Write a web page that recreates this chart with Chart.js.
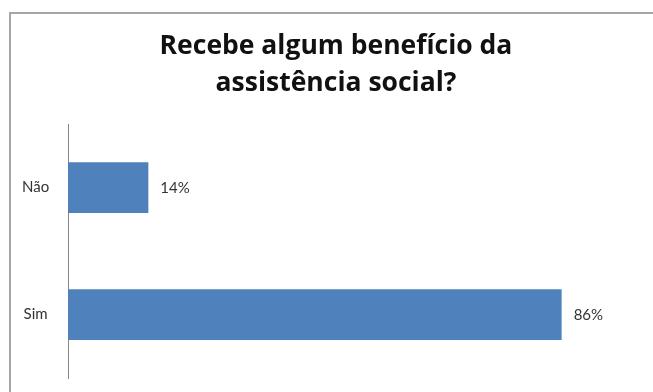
<!DOCTYPE html>
<html>
<head>
<meta charset="utf-8">
<title>Assistência social</title>
<script src="https://cdn.jsdelivr.net/npm/chart.js@4"></script>
<style>
  body { margin: 0; background: #fff; }
  canvas { display: block; }
</style>
</head>
<body>
<canvas id="barraBeneficio" width="653" height="392"></canvas>
<script>
// dados do gráfico
var categorias = ['Não', 'Sim'];
var percentuais = [14, 86];
var titulo = ['Recebe algum benefício da', 'assistência social?'];

// moldura cinza em volta do gráfico
var moldura = {
  id: 'moldura',
  beforeDraw: function (chart) {
    var ctx = chart.ctx;
    ctx.save();
    ctx.strokeStyle = '#a6a6a6';
    ctx.lineWidth = 2;
    ctx.beginPath();
    ctx.moveTo(10, chart.height);
    ctx.lineTo(10, 13);
    ctx.lineTo(chart.width, 13);
    ctx.stroke();
    ctx.restore();
  }
};

// rótulo com o valor ao lado de cada barra
var rotulos = {
  id: 'rotulos',
  afterDatasetsDraw: function (chart) {
    var ctx = chart.ctx;
    var meta = chart.getDatasetMeta(0);
    ctx.save();
    ctx.font = '15px Lato';
    ctx.fillStyle = '#333333';
    ctx.textAlign = 'left';
    ctx.textBaseline = 'middle';
    meta.data.forEach(function (barra, i) {
      ctx.fillText(percentuais[i] + '%', barra.x + 12, barra.y + 1);
    });
    ctx.restore();
  }
};

function barraBeneficio() {
  var ctx = document.getElementById('barraBeneficio').getContext('2d');
  var myChart = new Chart(ctx, {
    type: 'bar',
    data: {
      labels: categorias,
      datasets: [
        {
          data: percentuais,
          backgroundColor: '#4f81bd',
          borderWidth: 0,
          categoryPercentage: 1,
          barPercentage: 0.4,
        },
      ],
    },
    options: {
      indexAxis: 'y',
      responsive: false,
      animation: false,
      devicePixelRatio: 1,
      layout: {
        padding: { top: 0, left: 30, right: 11, bottom: 14 },
      },
      plugins: {
        legend: { display: false },
        tooltip: { enabled: false },
        title: {
          display: true,
          text: titulo,
          color: '#111111',
          font: { family: 'Open Sans', size: 26.5, weight: 'bold', lineHeight: 1.4 },
          padding: { top: 28, bottom: 22 },
        },
      },
      scales: {
        x: {
          display: false,
          min: 0,
          max: 100,
        },
        y: {
          grid: { display: false, drawTicks: false },
          border: { display: true, color: '#868686', width: 1 },
          ticks: {
            color: '#333333',
            font: { family: 'Lato', size: 15 },
            // mirror evita o recorte dos rótulos; padding negativo joga o texto para a esquerda do eixo
            mirror: true,
            crossAlign: 'center',
            padding: -46,
          },
          afterFit: function (escala) {
            // largura fixa e sem folga extra em cima/embaixo
            escala.width = 38;
            escala.paddingTop = 0;
            escala.paddingBottom = 0;
          },
        },
      },
    },
    plugins: [moldura, rotulos],
  });
}

window.onload = barraBeneficio();
</script>
</body>
</html>
